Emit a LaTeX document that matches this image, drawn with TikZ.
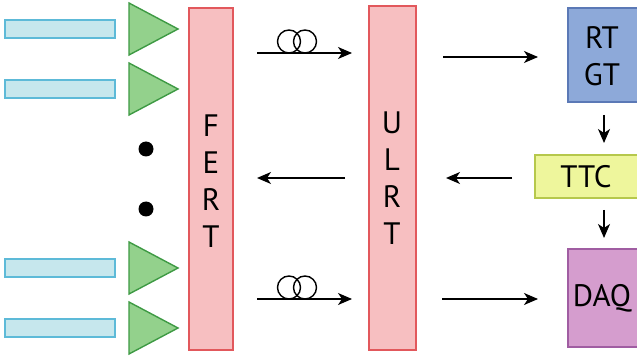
\documentclass[tikz,border=0pt]{standalone}
\usepackage{fontspec}
\setmainfont{PT Sans}
\usetikzlibrary{arrows.meta}

\definecolor{fibre}{HTML}{C6E7ED}
\definecolor{fibreline}{HTML}{5DBAD8}
\definecolor{amp}{HTML}{93D18C}
\definecolor{ampline}{HTML}{3E9A44}
\definecolor{rt}{HTML}{F7BFC1}
\definecolor{rtline}{HTML}{E2585C}
\definecolor{gt}{HTML}{8DA9D9}
\definecolor{gtline}{HTML}{5B79B6}
\definecolor{ttc}{HTML}{EEF69C}
\definecolor{ttcline}{HTML}{B6C84C}
\definecolor{daq}{HTML}{D59DCE}
\definecolor{daqline}{HTML}{A05DA2}

\tikzset{
  sig/.style={-{Stealth[length=14pt,width=12pt,inset=4pt]}, line width=1.4pt},
  bar/.style={fill=rt, draw=rtline, line width=1.4pt},
  chan/.style={fill=fibre, draw=fibreline, line width=1.4pt},
  pre/.style={fill=amp, draw=ampline, line width=1.4pt},
  txt/.style={font=\fontsize{31}{37}\selectfont, align=center}
}

\begin{document}
\begin{tikzpicture}[x=1pt, y=-1pt]
\useasboundingbox (0,0) rectangle (637,358);
\clip (0,0) rectangle (637,358);

% Input channels and preamplifiers
\foreach \y in {29, 89, 268, 328} {
  \draw[chan] (5,\y-9) rectangle (115,\y+9);
  \draw[pre] (129,\y-26) -- (178,\y) -- (129,\y+26) -- cycle;
}
\fill (146,149) circle (7.5);
\fill (146,209) circle (7.5);

% Readout transmitters
\draw[bar] (189,8) rectangle (233,350);
\node[txt] (FERT) at (211,181) {F\\E\\R\\T};
\draw[bar] (369,6) rectangle (416,350);
\node[txt] (ULRT) at (392,178) {U\\L\\R\\T};

% Trigger and DAQ boxes (cut at the right edge)
\draw[fill=gt, draw=gtline, line width=1.4pt] (568,8) rectangle (645,102);
\node[txt] (GT) at (602,56) {RT\\GT};
\draw[fill=ttc, draw=ttcline, line width=1.4pt] (535,155) rectangle (645,198);
\node[txt] (TTC) at (586,177) {TTC};
\draw[fill=daq, draw=daqline, line width=1.4pt] (568,249) rectangle (645,347);
\node[txt] (DAQ) at (602,298) {DAQ};

% Arrow end points
\coordinate (a1) at (257,53);  \coordinate (a2) at (352,53);
\coordinate (b1) at (257,299); \coordinate (b2) at (352,299);
\coordinate (c1) at (443,57);  \coordinate (c2) at (538,57);
\coordinate (d1) at (442,299); \coordinate (d2) at (538,299);
\coordinate (e1) at (345,178); \coordinate (e2) at (257,178);
\coordinate (f1) at (512,178); \coordinate (f2) at (446,178);
\coordinate (g1) at (604,115); \coordinate (g2) at (604,143);
\coordinate (h1) at (604,210); \coordinate (h2) at (604,238);

\draw[sig] (a1) -- (a2);
\draw[sig] (b1) -- (b2);
\draw[sig] (c1) -- (c2);
\draw[sig] (d1) -- (d2);
\draw[sig] (e1) -- (e2);
\draw[sig] (f1) -- (f2);
\draw[sig] (g1) -- (g2);
\draw[sig] (h1) -- (h2);

% Fibre loops
\foreach \y in {53, 299} {
  \draw[line width=1.4pt] (289,\y-11.5) circle (11.5);
  \draw[line width=1.4pt] (305,\y-11.5) circle (11.5);
}

\end{tikzpicture}
\end{document}
